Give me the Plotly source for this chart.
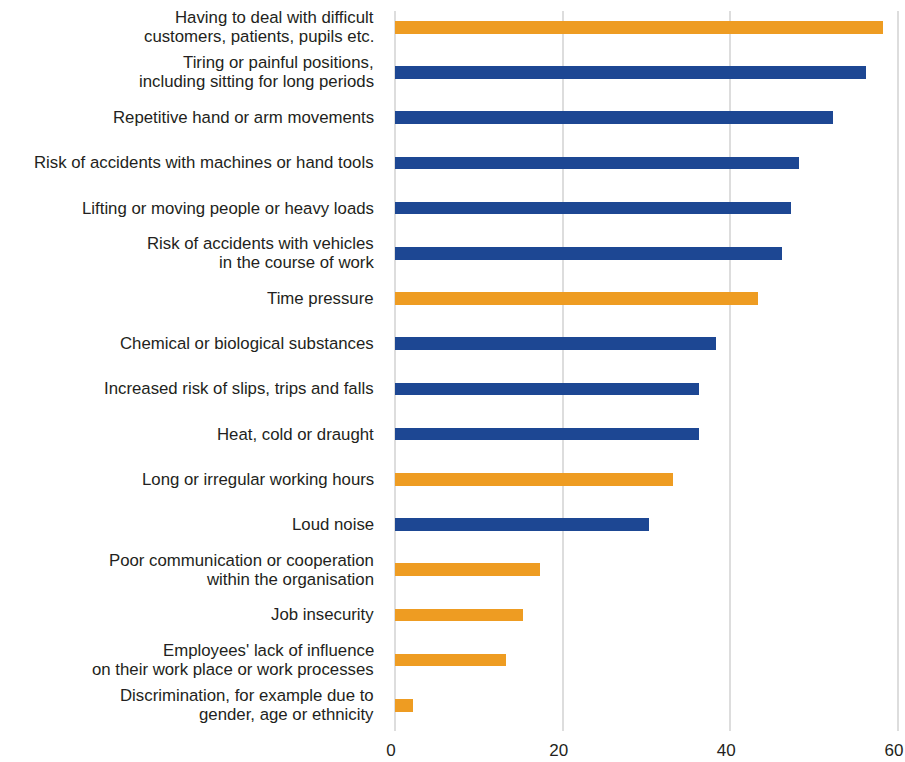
import plotly.graph_objects as go

categories = [
    "Having to deal with difficult<br>customers, patients, pupils etc.",
    "Tiring or painful positions,<br>including sitting for long periods",
    "Repetitive hand or arm movements",
    "Risk of accidents with machines or hand tools",
    "Lifting or moving people or heavy loads",
    "Risk of accidents with vehicles<br>in the course of work",
    "Time pressure",
    "Chemical or biological substances",
    "Increased risk of slips, trips and falls",
    "Heat, cold or draught",
    "Long or irregular working hours",
    "Loud noise",
    "Poor communication or cooperation<br>within the organisation",
    "Job insecurity",
    "Employees' lack of influence<br>on their work place or work processes",
    "Discrimination, for example due to<br>gender, age or ethnicity",
]
values = [58.2, 56.2, 52.2, 48.2, 47.2, 46.2, 43.3, 38.3, 36.3, 36.3, 33.2, 30.3, 17.3, 15.3, 13.3, 2.2]
risk_type = ["psychosocial", "physical", "physical", "physical", "physical", "physical",
             "psychosocial", "physical", "physical", "physical", "psychosocial", "physical",
             "psychosocial", "psychosocial", "psychosocial", "psychosocial"]
tick_values = [0, 20, 40, 60]

color_map = {"psychosocial": "#EE9C22", "physical": "#1D4793"}
colors = [color_map[t] for t in risk_type]
text_color = "#231F20"
label_font = dict(family="Liberation Sans", size=16.8, color=text_color)

fig = go.Figure(go.Bar(
    x=values, y=categories, orientation="h",
    marker=dict(color=colors, line=dict(width=0)),
    width=0.28,
))

# category labels, one annotation per text line for tight line spacing
line_gap = 19
for cat in categories:
    lines = cat.split("<br>")
    n = len(lines)
    for i, ln in enumerate(lines):
        fig.add_annotation(
            x=0, xref="paper", y=cat, yref="y",
            text=ln, showarrow=False, xanchor="right", yanchor="middle",
            xshift=-20, yshift=((n - 1) / 2 - i) * line_gap,
            font=label_font, borderpad=0,
        )

fig.update_layout(
    width=905, height=762,
    margin=dict(l=395, r=2, t=11, b=31),
    plot_bgcolor="white", paper_bgcolor="white",
    font=dict(family="Liberation Sans", size=17, color=text_color),
    showlegend=False,
    bargap=0,
)
fig.update_xaxes(
    range=[0, 60.6], tickvals=tick_values, showgrid=True, gridcolor="#DDDDDD", gridwidth=1.5,
    zeroline=True, zerolinecolor="#DDDDDD", zerolinewidth=1.5, showline=False,
    tickfont=dict(size=17, color=text_color), ticks="", automargin=False,
    ticklabelstandoff=7, ticklabelshift=-4,
)
fig.update_yaxes(
    categoryorder="array", categoryarray=categories[::-1], autorange=False,
    range=[-0.57, len(categories) - 0.64],
    showgrid=False, zeroline=False, showline=False, ticks="", showticklabels=False,
    automargin=False,
)

fig.write_html("out.html")
